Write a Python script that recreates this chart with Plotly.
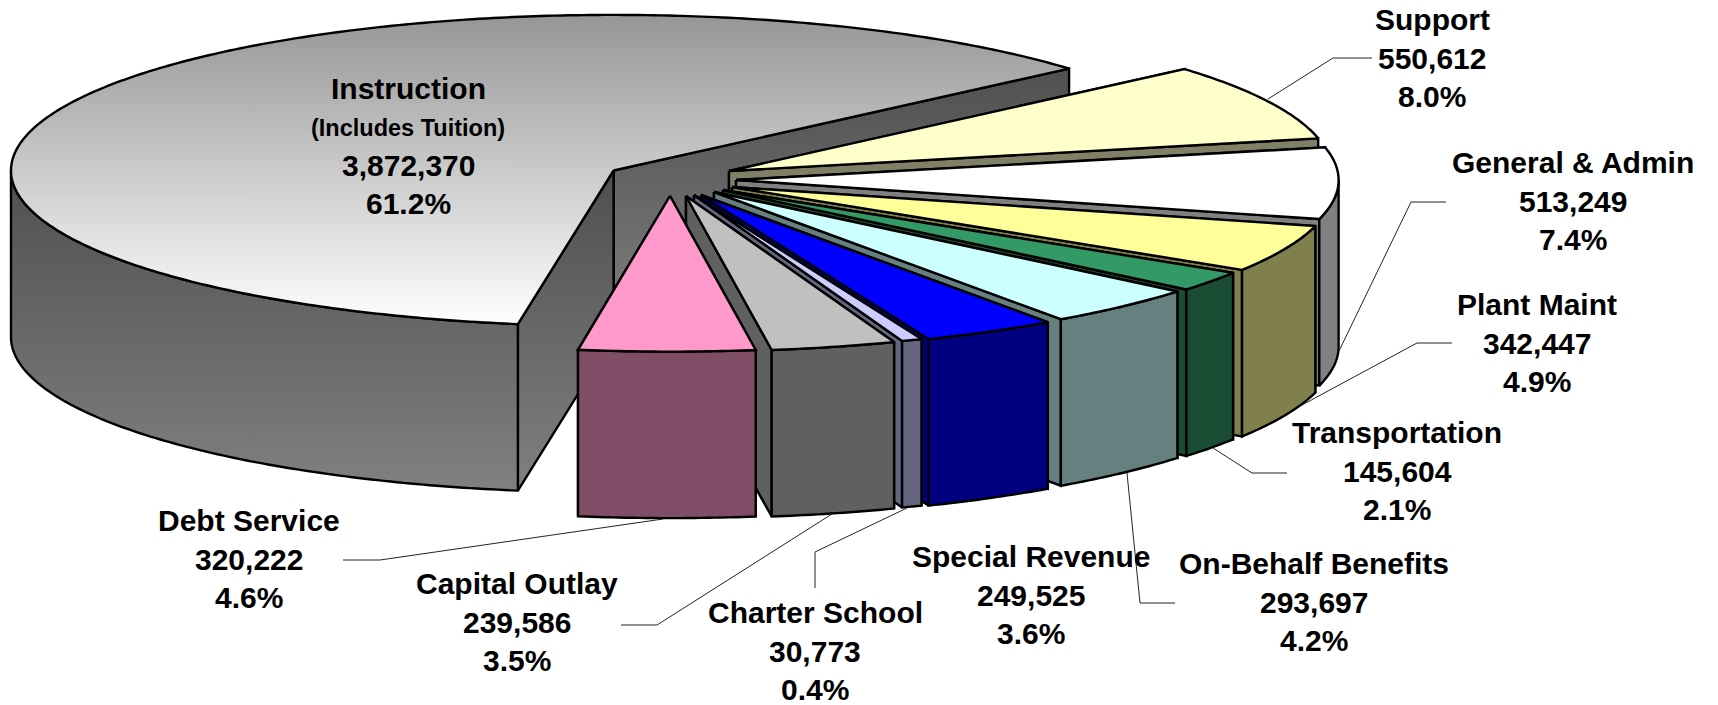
import numpy as np
import plotly.graph_objects as go

# ---------- data ----------
categories = ["Instruction", "Support", "General & Admin", "Plant Maint", "Transportation",
              "On-Behalf Benefits", "Special Revenue", "Charter School", "Capital Outlay", "Debt Service"]
values = [3872370, 550612, 513249, 342447, 145604, 293697, 249525, 30773, 239586, 320222]
percent_labels = ["61.2%", "8.0%", "7.4%", "4.9%", "2.1%", "4.2%", "3.6%", "0.4%", "3.5%", "4.6%"]
# slice shares
shares = [61.1, 8.0, 7.4, 4.9, 2.1, 4.2, 3.6, 0.55, 3.34, 4.71]

# ---------- styling / layout ----------
W, H = 1718, 705
RX, RY, DEPTH = 602.6, 155.6, 166.5
START = 40.9
apex_x = [613.6, 729, 736, 732, 723, 714, 701, 694, 686, 670]
apex_y = [170.5, 171, 180, 187, 190, 192, 195, 195, 196, 196]
top_colors = ["#ffffff", "#FFFFCC", "#FFFFFF", "#FFFF99", "#339966", "#CCFFFF", "#0000FF", "#CCCCFF", "#C0C0C0", "#FF99CC"]
side_colors = ["#666666", "#808066", "#808080", "#80804D", "#1A4D33", "#668080", "#000080", "#666680", "#606060", "#804D66"]
LW = 2.4
FONT = "Liberation Sans, Arial, sans-serif"
FS = 30
LINE_H = 38.2

label_pos = {  # centre x, centre y of the middle text line
    "Support": (1432, 58), "General & Admin": (1573, 201), "Plant Maint": (1537, 343),
    "Transportation": (1397, 471), "On-Behalf Benefits": (1314, 602), "Special Revenue": (1031, 595),
    "Charter School": (815, 651), "Capital Outlay": (517, 622), "Debt Service": (249, 559),
}
leaders = [
    [(1268, 99), (1333, 58), (1372, 58)],
    [(1339, 351), (1411, 202), (1446, 202)],
    [(1302, 405), (1417, 343), (1452, 343)],
    [(1213, 448), (1252, 473), (1287, 473)],
    [(1127, 473), (1140, 603), (1175, 603)],
    [(907, 508), (815, 552), (815, 588)],
    [(832, 514), (657, 625), (621, 625)],
    [(663, 519), (380, 560), (343, 560)],
]

fig = go.Figure()


def arc(ax, ay, t0, t1, dy=0.0):
    n = max(2, int(abs(t1 - t0) * 1.5) + 2)
    ts = np.radians(np.linspace(t0, t1, n))
    return ax + RX * np.cos(ts), ay - RY * np.sin(ts) + dy


def poly(xs, ys, color=None, gradient=None):
    xs = list(xs) + [xs[0]]
    ys = list(ys) + [ys[0]]
    kw = dict(fillgradient=gradient) if gradient else dict(fillcolor=color)
    fig.add_trace(go.Scatter(x=xs, y=ys, mode="lines", fill="toself", showlegend=False, hoverinfo="skip",
                             line=dict(color="black", width=LW, simplify=False), **kw))


def radial_face(ax, ay, t, color=None, gradient=None):
    px, py = arc(ax, ay, t, t)
    px, py = px[0], py[0]
    poly([ax, px, px, ax], [ay, py, py + DEPTH, ay + DEPTH], color, gradient)


def outer_face(ax, ay, t0, t1, color=None, gradient=None):
    x0, y0 = arc(ax, ay, t0, t1)
    x1, y1 = arc(ax, ay, t1, t0, DEPTH)
    poly(np.r_[x0, x1], np.r_[y0, y1], color, gradient)


def top_face(ax, ay, t0, t1, color=None, gradient=None):
    x0, y0 = arc(ax, ay, t0, t1)
    poly(np.r_[ax, x0], np.r_[ay, y0], color, gradient)


# Instruction: the large back slice, running anticlockwise from START
inst_end = START + shares[0] * 3.6
right_grad = dict(type="vertical", colorscale=[[0, "#505050"], [1, "#808080"]], start=68, stop=337)
side_grad = dict(type="vertical", colorscale=[[0, "#4f4f4f"], [1, "#808080"]], start=170, stop=490)
top_grad = dict(type="vertical", colorscale=[[0, "#969696"], [1, "#ffffff"]], start=15, stop=326)
ax, ay = apex_x[0], apex_y[0]
radial_face(ax, ay, START, gradient=right_grad)
radial_face(ax, ay, inst_end, gradient=side_grad)
outer_face(ax, ay, 180, inst_end, gradient=side_grad)
top_face(ax, ay, START, inst_end, gradient=top_grad)

# Remaining slices: clockwise from START, back to front
t = START
for i in range(1, len(shares)):
    t0, t1 = t, t - shares[i] * 3.6
    t = t1
    ax, ay = apex_x[i], apex_y[i]
    side = side_colors[i]
    faces = [(t0, np.cos(np.radians(t0)) < 0), (t1, np.cos(np.radians(t1)) > 0)]
    for tt, visible in sorted(faces, key=lambda f: f[1]):
        radial_face(ax, ay, tt, side)
    if t1 < 0:
        outer_face(ax, ay, min(t0, 0), t1, side)
    top_face(ax, ay, t0, t1, top_colors[i])

# Leader lines
for pts in leaders:
    fig.add_trace(go.Scatter(x=[p[0] for p in pts], y=[p[1] for p in pts], mode="lines", showlegend=False,
                             hoverinfo="skip", line=dict(color="#222222", width=1)))


def label(x, y, text, size=FS):
    fig.add_annotation(x=x, y=y, xref="x", yref="y", text=f"<b>{text}</b>", showarrow=False,
                       xanchor="center", yanchor="middle", align="center",
                       font=dict(family=FONT, size=size, color="black"))


for i, name in enumerate(categories[1:], start=1):
    x, y = label_pos[name]
    label(x, y - LINE_H, name)
    label(x, y, f"{values[i]:,}")
    label(x, y + LINE_H, percent_labels[i])

# Instruction sits on the slice, with a smaller second line
label(408, 88, categories[0])
label(408, 128, "(Includes Tuition)", 23.5)
label(408, 165, f"{values[0]:,}")
label(408, 203, percent_labels[0])

fig.update_layout(
    width=W, height=H, margin=dict(l=0, r=0, t=0, b=0), paper_bgcolor="white", plot_bgcolor="white",
    showlegend=False,
    xaxis=dict(range=[0, W], visible=False, fixedrange=True),
    yaxis=dict(range=[H, 0], visible=False, fixedrange=True),
)
fig.write_html("out.html", config={"displayModeBar": False},
               post_script="document.body.style.margin='0';document.body.style.overflow='hidden';")
